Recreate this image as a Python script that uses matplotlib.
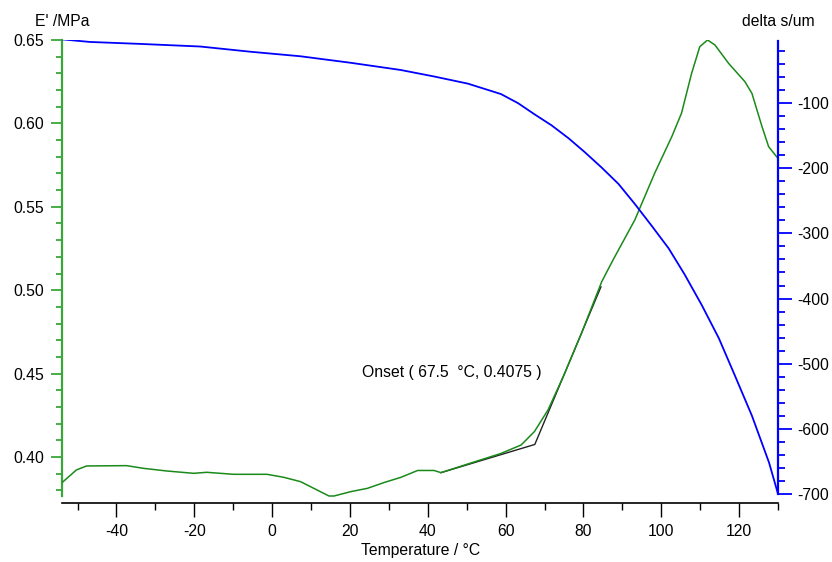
import matplotlib
matplotlib.use('Agg')
import matplotlib.pyplot as plt
import numpy as np

plt.rcParams['font.family'] = ['Liberation Sans', 'DejaVu Sans']
plt.rcParams['axes.unicode_minus'] = False

# storage modulus E' (left axis, green)
temp_e = [-54.0, -50.3, -47.7, -37.4, -33.1, -27.1, -20.2, -16.8, -9.9, -1.3,
          3.0, 7.3, 12.4, 14.6, 15.9, 20.2, 24.5, 28.8, 33.1, 37.4, 41.6, 43.4,
          50.3, 58.8, 64.0, 67.4, 70.9, 75.2, 79.5, 84.7, 87.6, 93.2, 98.3,
          102.7, 105.2, 107.8, 109.9, 111.9, 113.8, 117.3, 121.5, 123.3, 125.9,
          127.6, 130.0]
e_mod = [0.3846, 0.3922, 0.3946, 0.3948, 0.3932, 0.3916, 0.3902, 0.3908, 0.3896,
         0.3896, 0.3878, 0.3852, 0.3792, 0.3766, 0.3766, 0.3792, 0.3812, 0.3847,
         0.3878, 0.3919, 0.3919, 0.3906, 0.3958, 0.4021, 0.4072, 0.4152, 0.4282,
         0.4502, 0.4742, 0.5051, 0.5181, 0.5421, 0.5701, 0.5920, 0.6061, 0.6300,
         0.6460, 0.6500, 0.6470, 0.6360, 0.6250, 0.6180, 0.5980, 0.5860, 0.5790]

# delta s/um (right axis, blue)
temp_d = [-54.0, -46.8, -33.9, -18.5, -5.6, 7.3, 20.2, 33.0, 41.6, 50.3, 58.8,
          63.2, 67.4, 71.8, 76.2, 80.3, 84.7, 89.0, 93.1, 97.5, 101.9, 106.0,
          110.4, 114.8, 118.9, 123.3, 127.7, 130.0]
delta = [-2, -6, -9, -13, -21, -28, -38, -49, -59, -70, -86, -100, -117, -134,
         -154, -175, -199, -224, -254, -288, -323, -363, -410, -461, -518, -580,
         -652, -700]

# onset construction
onset_t = [43.4, 67.5, 84.5]
onset_e = [0.3906, 0.4075, 0.5020]
onset_label = "Onset ( 67.5  \u00b0C, 0.4075 )"

green_axis = '#3aa63a'
green_line = '#1a8a1a'
blue = '#0000ff'
fs = 11.3

fig = plt.figure(figsize=(8.32, 5.62), dpi=100)
ax = fig.add_axes([62/832, 59/562, 716/832, 463/562])
ax2 = ax.twinx()

ax.plot(temp_e, e_mod, color=green_line, lw=1.1, zorder=3)
ax.plot(onset_t, onset_e, color='#222222', lw=1.0, zorder=2)
ax2.plot(temp_d, delta, color=blue, lw=1.3)
ax.text(23.0, 0.4504, onset_label, fontsize=fs, ha='left', va='center')

ax.set_xlim(-54, 130)
ax.set_ylim(0.3724, 0.65)
ax2.set_ylim(-714, -3)

ax.set_xticks(np.arange(-40, 121, 20))
ax.set_xticks(np.arange(-50, 131, 10), minor=True)
ax.set_yticks(np.arange(0.40, 0.651, 0.05))
ax.set_yticks(np.arange(0.38, 0.645, 0.01), minor=True)
ax.set_yticklabels(['%.2f' % v for v in np.arange(0.40, 0.651, 0.05)])
ax2.set_yticks(np.arange(-700, -99, 100))
ax2.set_yticks(np.arange(-700, -19, 20), minor=True)

for a in (ax, ax2):
    a.spines['top'].set_visible(False)
ax.spines['right'].set_visible(False)
ax2.spines['left'].set_visible(False)
ax2.spines['bottom'].set_visible(False)

ax.spines['left'].set_color(green_axis)
ax.spines['left'].set_linewidth(1.6)
ax.spines['left'].set_bounds(0.3766, 0.65)
ax.spines['bottom'].set_color('black')
ax.spines['bottom'].set_linewidth(1.2)
ax2.spines['right'].set_color(blue)
ax2.spines['right'].set_linewidth(1.6)
ax2.spines['right'].set_bounds(-700, -5)

ax.tick_params(axis='x', which='major', length=10, width=1.0, pad=5, labelsize=fs)
ax.tick_params(axis='x', which='minor', length=5, width=1.0)
ax.tick_params(axis='y', which='major', length=8, width=1.3, color=green_axis, pad=5, labelsize=fs)
ax.tick_params(axis='y', which='minor', length=4, width=1.3, color=green_axis)
ax2.tick_params(axis='y', which='major', length=10, width=1.3, color=blue, pad=4, labelsize=fs)
ax2.tick_params(axis='y', which='minor', length=5, width=1.3, color=blue)

fig.text(35/832, 1 - 22/562, "E' /MPa", fontsize=fs, ha='left', va='center')
fig.text(742/832, 1 - 22/562, "delta s/um", fontsize=fs, ha='left', va='center')
fig.text(421/832, 1 - 551/562, "Temperature / \u00b0C", fontsize=fs, ha='center', va='center')

fig.savefig('out.png', dpi=100)
